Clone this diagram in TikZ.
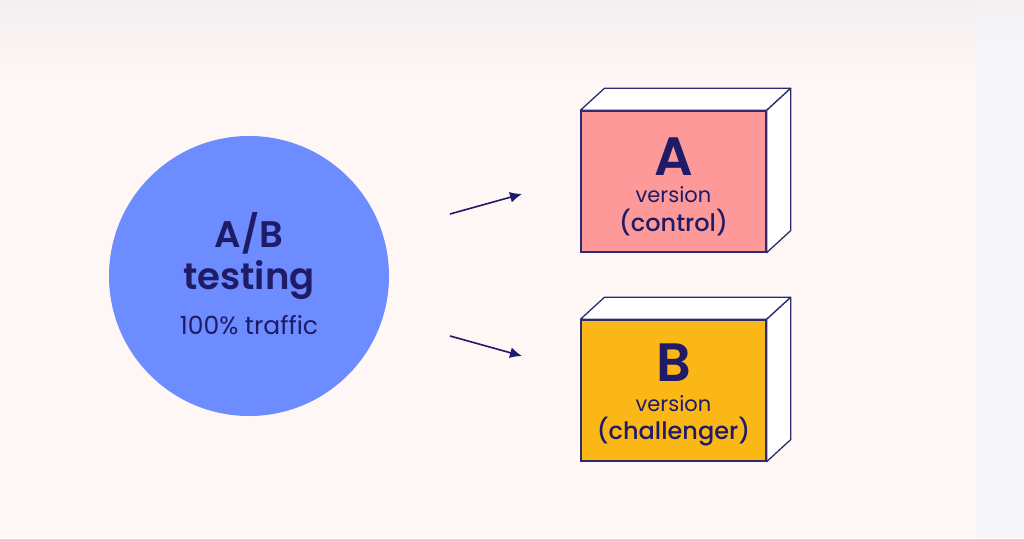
\documentclass[tikz,border=0pt]{standalone}
\usepackage{fontspec}
\setmainfont{Poppins}[BoldFont={Poppins SemiBold}]
\newfontfamily\medfont{Poppins Medium}
\usepackage{tikz}
\usetikzlibrary{arrows.meta,calc,positioning}
\definecolor{bgpink}{HTML}{FFF6F6}
\definecolor{bgtop}{HTML}{F3EFF1}
\definecolor{bggray}{HTML}{F7F7F9}
\definecolor{navy}{HTML}{1F1B66}
\definecolor{edge}{HTML}{2E2C70}
\definecolor{circblue}{HTML}{6C8CFF}
\definecolor{boxpink}{HTML}{FD9999}
\definecolor{boxgold}{HTML}{FBB716}

\tikzset{
  front/.style={draw=edge,line width=1.3pt,minimum width=185pt,
    minimum height=141pt,inner sep=0pt},
  side/.style={draw=edge,line width=1.3pt,fill=white,line join=round},
  flow/.style={navy,line width=1.6pt,-{Latex[length=12pt,width=11pt]}},
  label/.style={text=navy,inner sep=0pt,anchor=base,text depth=0pt},
  big/.style={label,font=\fontsize{54}{54}\selectfont\bfseries,text height=38pt},
  small/.style={label,font=\fontsize{21}{22}\selectfont,text height=11pt},
  mid/.style={label,font=\fontsize{24}{26}\selectfont\medfont,text height=16pt},
  head/.style={label,font=\fontsize{37}{37}\selectfont\bfseries}
}

\begin{document}
\begin{tikzpicture}[x=1pt,y=1pt]
% background
\fill[bgpink] (0,0) rectangle (976,538);
\fill[bggray] (976,0) rectangle (1024,538);
\shade[top color=bgtop,bottom color=bgpink] (0,460) rectangle (976,538);
\shade[top color=bgtop!70!bggray,bottom color=bggray] (976,460) rectangle (1024,538);
\useasboundingbox (0,0) rectangle (1024,538);

% source circle
\node[circle,fill=circblue,minimum size=280pt,inner sep=0pt] (abtest) at (249,262) {};
\node[head,text height=27pt] (abtitle) at (249,290) {A/B};
\node[head,text height=20pt] (abtesting) at (249,248) {testing};
\node[label,font=\fontsize{25}{25}\selectfont] (abtraffic) at (249,203) {100\% traffic};

% version boxes
\foreach \name/\col/\yc in {boxA/boxpink/356.5,boxB/boxgold/147.5}{
  \node[front,fill=\col] (\name) at (673.5,\yc) {};
  \draw[side] (\name.north west) -- ++(24,22) -- ($(\name.north east)+(24,22)$)
    -- (\name.north east) -- cycle;
  \draw[side] (\name.north east) -- ++(24,22) -- ($(\name.south east)+(24,22)$)
    -- (\name.south east) -- cycle;
  \draw[edge,line width=1.3pt] (\name.north west) rectangle (\name.south east);
}
\node[big] (Aletter) at (673.5,362) {A};
\node[small] (Aver) at (673.5,335) {version};
\node[mid] (Arole) at (673.5,306) {(control)};
\node[big] (Bletter) at (673.5,156) {B};
\node[small] (Bver) at (673.5,126) {version};
\node[mid] (Brole) at (673.5,99) {(challenger)};

% arrows
\coordinate (upstart) at (450,324);
\coordinate (upend) at (522,344);
\coordinate (lowstart) at (450,202);
\coordinate (lowend) at (522,182);
\draw[flow] (upstart) -- (upend);
\draw[flow] (lowstart) -- (lowend);
\end{tikzpicture}
\end{document}
